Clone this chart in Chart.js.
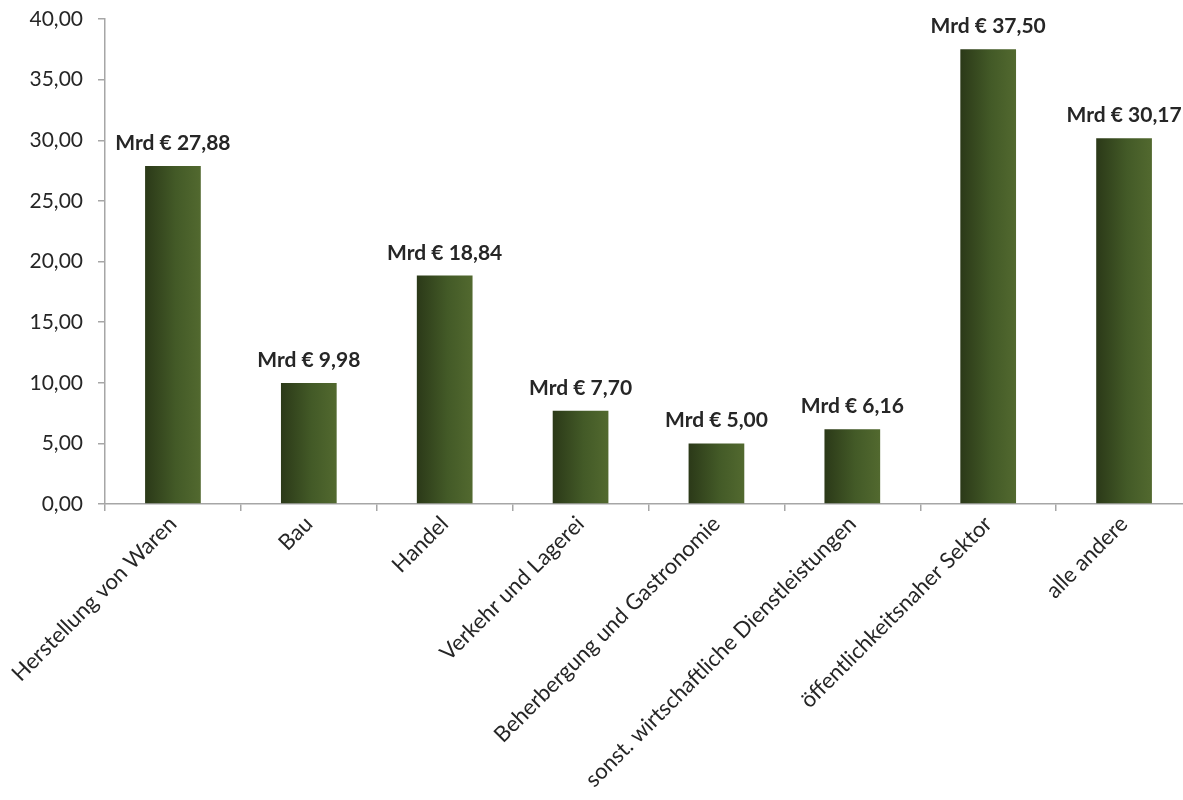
<!DOCTYPE html>
<html>
<head>
<meta charset="utf-8">
<script src="https://cdn.jsdelivr.net/npm/chart.js@4"></script>
<style>
    html, body { margin: 0; padding: 0; background: #fff; overflow: hidden; }
    #wrap { width: 1192px; height: 800px; position: relative; }
</style>
</head>
<body>
<div id="wrap"><canvas id="sectorChart"></canvas></div>
<script>
//--- Data ---//
const sectors = [
    'Herstellung von Waren',
    'Bau',
    'Handel',
    'Verkehr und Lagerei',
    'Beherbergung und Gastronomie',
    'sonst. wirtschaftliche Dienstleistungen',
    'öffentlichkeitsnaher Sektor',
    'alle andere'
];
const amounts = [27.88, 9.98, 18.84, 7.70, 5.00, 6.16, 37.50, 30.17];
const yTicks = [0, 5, 10, 15, 20, 25, 30, 35, 40];
//------------//

const textColor = '#262626';
const axisColor = '#a6a6a6';
const fontFamily = 'Lato, "Open Sans", sans-serif';

//--- Helpers ---//
function toGerman(value) {
    return value.toFixed(2).replace('.', ',');
}

// Each bar gets its own dark-to-light green gradient, left to right
function barGradient(context) {
    const chart = context.chart;
    const { ctx, chartArea, scales } = chart;
    if (!chartArea || !scales.x) return '#3f5322';
    const step = scales.x.getPixelForValue(1) - scales.x.getPixelForValue(0);
    const width = step * 0.41;
    const center = scales.x.getPixelForValue(context.dataIndex);
    const left = center - width / 2;
    const g = ctx.createLinearGradient(left, 0, left + width, 0);
    g.addColorStop(0, '#2b3918');
    g.addColorStop(0.55, '#435a27');
    g.addColorStop(1, '#52692f');
    return g;
}
//---------------//

// Value labels above the bars
const valueLabels = {
    id: 'valueLabels',
    afterDatasetsDraw(chart) {
        const { ctx } = chart;
        const meta = chart.getDatasetMeta(0);
        ctx.save();
        ctx.font = `bold 21px ${fontFamily}`;
        ctx.fillStyle = textColor;
        ctx.textAlign = 'center';
        ctx.textBaseline = 'alphabetic';
        meta.data.forEach((bar, i) => {
            ctx.fillText(`Mrd € ${toGerman(amounts[i])}`, bar.x, bar.y - 16);
        });
        ctx.restore();
    }
};

new Chart(document.getElementById('sectorChart'), {
    type: 'bar',
    data: {
        labels: sectors,
        datasets: [{
            data: amounts,
            backgroundColor: barGradient,
            barPercentage: 0.41,
            categoryPercentage: 1
        }]
    },
    options: {
        responsive: true,
        maintainAspectRatio: false,
        animation: false,
        layout: { padding: { top: 19, right: 0, left: 0, bottom: 0 } },
        plugins: {
            legend: { display: false },
            tooltip: { enabled: false }
        },
        scales: {
            x: {
                grid: {
                    offset: true,
                    drawOnChartArea: false,
                    drawTicks: true,
                    tickLength: 7,
                    color: axisColor,
                    lineWidth: 1.5
                },
                border: { color: axisColor, width: 1.5 },
                ticks: {
                    color: textColor,
                    font: { family: fontFamily, size: 22 },
                    minRotation: 45,
                    maxRotation: 45,
                    autoSkip: false,
                    padding: 0
                },
                afterFit: (scale) => { scale.height = 296; }
            },
            y: {
                min: 0,
                max: 40,
                afterBuildTicks: (scale) => {
                    scale.ticks = yTicks.map(v => ({ value: v }));
                },
                grid: {
                    drawOnChartArea: false,
                    drawTicks: true,
                    tickLength: 7,
                    color: axisColor,
                    lineWidth: 1.5
                },
                border: { color: axisColor, width: 1.5 },
                ticks: {
                    color: textColor,
                    font: { family: fontFamily, size: 21 },
                    padding: 15,
                    callback: (value) => toGerman(value)
                },
                // fixed axis width, and no extra space reserved above/below the axis
                afterFit: (scale) => {
                    scale.width = 105;
                    scale.paddingTop = 0;
                    scale.paddingBottom = 0;
                }
            }
        }
    },
    plugins: [valueLabels]
});
</script>
</body>
</html>
